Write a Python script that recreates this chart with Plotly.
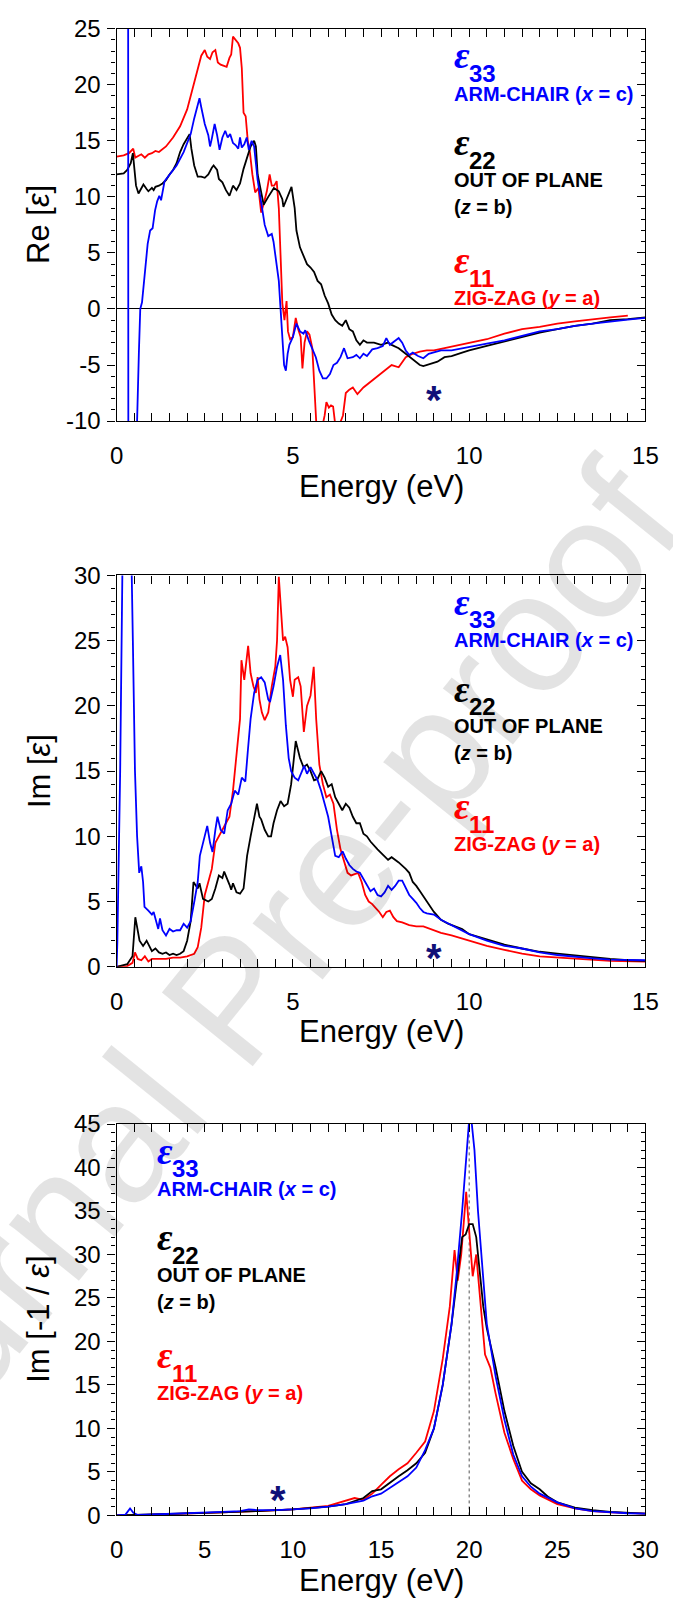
import plotly.graph_objects as go

# ---------------- Panel 1 : Re[eps] ----------------
re_blue_x = [0.0, 0.15, 0.25, 0.31, 0.33, 0.35, 0.42, 0.5, 0.58, 0.63, 0.67, 0.72, 0.79, 0.88, 0.95, 1.02, 1.09,
             1.15, 1.21, 1.26, 1.36, 1.5, 1.7, 1.9, 2.0, 2.1, 2.2, 2.3, 2.35, 2.4, 2.5, 2.6, 2.65, 2.7, 2.78, 2.85,
             2.92, 3.0, 3.08, 3.15, 3.22, 3.3, 3.38, 3.45, 3.5, 3.55, 3.62, 3.69, 3.75, 3.83, 3.9, 3.95, 4.0, 4.1,
             4.2, 4.3, 4.4, 4.45, 4.5, 4.6, 4.65, 4.7, 4.75, 4.8, 4.85, 4.9, 5.0, 5.1, 5.2, 5.3, 5.35, 5.45, 5.55,
             5.65, 5.75, 5.85, 5.95, 6.05, 6.15, 6.25, 6.35, 6.45, 6.55, 6.7, 6.8, 6.9, 7.0, 7.1, 7.25, 7.4, 7.55,
             7.65, 7.75, 7.9, 8.0, 8.1, 8.2, 8.3, 8.4, 8.55, 8.7, 8.85, 9.0, 9.2, 9.5, 9.8, 10.0, 10.5, 11.0, 11.5,
             12.0, 12.5, 13.0, 13.5, 14.0, 14.5, 15.0]
re_blue_y = [40.0, 48.0, 70.0, 150.0, 0.0, -150.0, -60.0, -30.0, -10.0, -4.0, 0.0, 0.6, 2.9, 5.8, 7.0, 7.2, 8.8,
             9.6, 10.1, 9.7, 11.4, 12.0, 12.8, 14.0, 14.8, 15.6, 17.0, 18.3, 18.8, 18.0, 16.5, 15.5, 14.5, 15.2,
             16.5, 15.5, 14.2, 15.3, 15.9, 15.3, 15.6, 14.8, 14.6, 14.3, 15.3, 14.4, 14.7, 15.3, 14.2, 15.0, 14.5,
             13.0, 11.5, 9.5, 7.5, 6.5, 6.7, 6.0, 4.8, 2.5, 0.0, -2.5, -5.0, -5.5, -4.0, -3.2, -2.5, -1.3, -2.0,
             -2.2, -1.9, -2.8, -3.6, -4.3, -5.5, -6.2, -6.2, -5.8, -5.0, -4.8, -4.3, -3.5, -4.4, -4.3, -4.1, -4.4,
             -4.0, -4.2, -3.6, -3.5, -3.3, -2.6, -3.2, -2.8, -2.6, -3.0, -3.7, -4.1, -3.9, -4.2, -4.4, -4.0, -3.9,
             -3.7, -3.7, -3.5, -3.4, -3.1, -2.8, -2.4, -2.0, -1.8, -1.5, -1.3, -1.1, -0.95, -0.8]

re_red_x = [0.0, 0.2, 0.35, 0.47, 0.53, 0.6, 0.7, 0.8, 0.9, 1.0, 1.1, 1.2, 1.4, 1.6, 1.8, 2.0, 2.1, 2.2, 2.3, 2.4,
            2.5, 2.57, 2.65, 2.72, 2.8, 2.87, 2.95, 3.05, 3.12, 3.2, 3.25, 3.3, 3.38, 3.45, 3.5, 3.55, 3.6, 3.66,
            3.72, 3.78, 3.85, 3.93, 4.02, 4.1, 4.18, 4.26, 4.34, 4.4, 4.47, 4.54, 4.6, 4.65, 4.7, 4.76, 4.82, 4.86,
            4.92, 5.0, 5.08, 5.15, 5.22, 5.27, 5.33, 5.4, 5.47, 5.55, 5.6, 5.66, 5.72, 5.8, 5.9, 5.95, 6.02, 6.08,
            6.14, 6.2, 6.3, 6.42, 6.5, 6.6, 6.7, 6.83, 7.0, 7.2, 7.4, 7.6, 7.8, 8.0, 8.1, 8.2, 8.4, 8.6, 8.8, 9.0,
            9.3, 9.6, 10.0, 10.5, 11.0, 11.5, 12.0, 12.5, 13.0, 13.5, 14.0, 14.5, 15.0]
re_red_y = [13.6, 13.7, 13.9, 14.3, 13.5, 13.6, 13.8, 13.5, 13.8, 13.9, 14.1, 14.0, 14.5, 15.3, 16.3, 17.8, 19.0,
            20.3, 21.6, 22.6, 23.1, 22.5, 22.3, 22.9, 23.1, 22.0, 21.8, 21.7, 21.6, 22.4, 22.7, 24.3, 24.0, 23.7,
            23.3, 21.5, 17.5, 17.2, 15.0, 14.0, 12.0, 10.4, 10.8, 8.6, 9.5, 10.5, 12.0, 11.0, 11.0, 11.4, 9.0, 5.0,
            0.5, -1.0, 0.7, -2.0, -2.7, -2.5, -0.8, -1.8, -2.5, -5.3, -3.0, -2.0, -2.3, -3.5, -6.0, -10.0, -11.0,
            -11.0, -9.5, -8.3, -8.8, -8.6, -8.7, -10.3, -10.5, -9.5, -7.5, -7.2, -7.0, -7.6, -7.0, -6.5, -6.0,
            -5.5, -5.0, -5.2, -4.7, -4.3, -4.0, -3.8, -3.7, -3.7, -3.5, -3.3, -3.0, -2.7, -2.2, -1.8, -1.6, -1.3,
            -1.1, -0.9, -0.75, -0.6]

re_black_x = [0.0, 0.2, 0.3, 0.4, 0.46, 0.55, 0.62, 0.7, 0.76, 0.85, 0.9, 1.0, 1.05, 1.1, 1.2, 1.3, 1.4, 1.5, 1.6,
              1.7, 1.8, 1.9, 2.0, 2.07, 2.12, 2.2, 2.3, 2.4, 2.5, 2.6, 2.7, 2.75, 2.85, 2.9, 3.0, 3.1, 3.2, 3.3,
              3.4, 3.5, 3.6, 3.7, 3.8, 3.9, 3.95, 4.0, 4.1, 4.17, 4.3, 4.4, 4.46, 4.6, 4.7, 4.73, 4.85, 4.96, 5.05,
              5.1, 5.2, 5.3, 5.4, 5.5, 5.6, 5.7, 5.8, 5.9, 6.0, 6.1, 6.2, 6.3, 6.4, 6.5, 6.6, 6.7, 6.8, 6.9, 7.0,
              7.1, 7.3, 7.5, 7.7, 7.8, 8.0, 8.2, 8.4, 8.6, 8.7, 8.9, 9.1, 9.3, 9.5, 9.8, 10.0, 10.5, 11.0, 11.5,
              12.0, 12.5, 13.0, 13.5, 14.0, 14.5, 15.0]
re_black_y = [12.0, 12.1, 12.4, 13.0, 13.9, 11.0, 10.3, 10.8, 11.1, 10.7, 10.5, 10.8, 10.6, 10.9, 11.0, 11.2, 11.5,
              12.0, 12.4, 13.0, 14.0, 14.7, 15.3, 15.6, 14.3, 12.8, 11.8, 11.8, 11.7, 12.0, 12.6, 12.8, 12.4, 11.6,
              11.3, 10.6, 10.1, 11.0, 10.6, 11.2, 12.5, 13.5, 14.5, 15.0, 14.5, 12.0, 10.5, 9.3, 10.0, 10.5, 10.8,
              10.5, 9.8, 9.1, 10.0, 10.9, 9.0, 7.0, 5.5, 4.7, 4.0, 3.7, 3.3, 2.5, 2.2, 1.2, 0.5, -0.5, -1.0, -1.3,
              -1.5, -1.0, -1.8, -2.0, -2.8, -3.2, -2.8, -3.0, -3.0, -3.2, -3.0, -3.2, -3.5, -4.0, -4.5, -5.0, -5.1,
              -4.9, -4.7, -4.3, -4.2, -3.9, -3.7, -3.3, -2.9, -2.5, -2.1, -1.8, -1.5, -1.3, -1.0, -0.9, -0.75]

re_tickvals = [-10, -5, 0, 5, 10, 15, 20, 25]
re_ticktext = ["-10", "-5", "0", "5", "10", "15", "20", "25"]

# ---------------- Panel 2 : Im[eps] ----------------
im_blue_x = [0.0, 0.02, 0.1, 0.17, 0.3, 0.42, 0.46, 0.52, 0.58, 0.64, 0.7, 0.75, 0.79, 0.9, 1.0, 1.05, 1.12, 1.18,
             1.23, 1.3, 1.4, 1.5, 1.6, 1.7, 1.8, 1.9, 2.0, 2.1, 2.21, 2.3, 2.36, 2.45, 2.57, 2.65, 2.72, 2.8, 2.86,
             2.95, 3.05, 3.15, 3.25, 3.35, 3.45, 3.55, 3.65, 3.72, 3.8, 3.9, 4.0, 4.1, 4.2, 4.3, 4.35, 4.45, 4.55,
             4.64, 4.72, 4.8, 4.88, 4.95, 5.05, 5.15, 5.25, 5.32, 5.4, 5.5, 5.6, 5.7, 5.8, 5.9, 6.0, 6.1, 6.2, 6.3,
             6.41, 6.5, 6.6, 6.7, 6.8, 6.9, 7.0, 7.1, 7.2, 7.3, 7.4, 7.5, 7.6, 7.7, 7.8, 7.9, 8.0, 8.1, 8.2, 8.3,
             8.4, 8.5, 8.6, 8.7, 8.8, 9.0, 9.2, 9.5, 10.0, 10.5, 11.0, 11.5, 12.0, 12.5, 13.0, 13.5, 14.0, 14.5, 15.0]
im_blue_y = [0.0, 1.9, 15.0, 32.0, 50.0, 33.0, 25.0, 15.0, 10.0, 7.2, 7.7, 6.5, 4.6, 4.3, 4.0, 4.2, 3.5, 2.9, 3.7,
             2.8, 2.4, 2.9, 2.7, 2.8, 2.8, 3.3, 3.0, 3.5, 5.1, 6.5, 8.5, 9.5, 10.8, 9.5, 8.8, 10.5, 11.5, 10.5,
             10.2, 12.0, 12.5, 13.5, 13.2, 14.5, 14.2, 16.5, 19.0, 21.0, 22.0, 22.2, 21.8, 20.5, 20.3, 21.5, 23.0,
             23.9, 22.0, 18.5, 16.0, 15.0, 14.5, 14.3, 15.0, 15.4, 14.8, 15.3, 14.8, 14.3, 13.5, 12.5, 11.5, 10.0,
             8.5, 8.4, 8.85, 8.3, 7.8, 7.5, 7.3, 7.2, 6.7, 6.2, 5.8, 6.0, 5.5, 5.4, 5.7, 6.2, 5.9, 6.2, 6.6, 6.6,
             6.0, 5.5, 5.2, 4.9, 4.5, 4.2, 4.1, 4.0, 3.6, 3.2, 2.5, 2.0, 1.6, 1.4, 1.1, 0.9, 0.75, 0.65, 0.55, 0.5, 0.5]

im_red_x = [0.0, 0.3, 0.45, 0.52, 0.6, 0.7, 0.8, 0.9, 1.0, 1.2, 1.4, 1.6, 1.8, 2.0, 2.2, 2.3, 2.4, 2.5, 2.6, 2.7,
            2.8, 2.9, 3.0, 3.1, 3.2, 3.3, 3.4, 3.5, 3.54, 3.62, 3.73, 3.8, 3.88, 3.95, 4.0, 4.05, 4.12, 4.2, 4.3,
            4.4, 4.5, 4.55, 4.6, 4.66, 4.72, 4.78, 4.85, 4.92, 5.0, 5.05, 5.15, 5.22, 5.31, 5.4, 5.5, 5.59, 5.66,
            5.75, 5.85, 5.95, 6.05, 6.15, 6.25, 6.35, 6.45, 6.55, 6.65, 6.75, 6.85, 6.95, 7.05, 7.15, 7.25, 7.35,
            7.45, 7.55, 7.65, 7.75, 7.85, 7.95, 8.1, 8.3, 8.5, 8.7, 8.9, 9.2, 9.5, 10.0, 10.5, 11.0, 11.5, 12.0,
            12.5, 13.0, 14.0, 15.0]
im_red_y = [0.0, 0.05, 0.3, 1.1, 0.6, 0.5, 0.8, 0.4, 0.6, 0.6, 0.6, 0.7, 0.7, 0.8, 1.0, 1.5, 3.0, 5.5, 6.5, 7.5,
            9.5, 10.0, 10.5, 11.0, 11.5, 13.5, 16.0, 19.0, 23.5, 22.0, 24.6, 22.5, 21.5, 21.0, 22.2, 20.5, 19.5,
            18.9, 19.5, 21.5, 23.0, 25.0, 29.9, 27.0, 25.0, 25.3, 24.5, 22.0, 20.7, 22.0, 22.2, 21.5, 18.0, 20.0,
            20.8, 23.0, 19.0, 15.5, 14.0, 13.0, 13.2, 12.5, 10.5, 9.0, 8.0, 7.2, 7.0, 7.1, 7.2, 6.5, 5.5, 5.0, 4.8,
            4.5, 4.2, 3.8, 4.2, 4.3, 3.8, 3.5, 3.4, 3.2, 3.1, 3.1, 2.9, 2.6, 2.4, 2.0, 1.6, 1.3, 1.0, 0.8, 0.7,
            0.6, 0.45, 0.4]

im_black_x = [0.0, 0.3, 0.45, 0.53, 0.65, 0.75, 0.85, 0.95, 1.0, 1.1, 1.2, 1.3, 1.4, 1.5, 1.6, 1.7, 1.8, 1.9, 2.0,
              2.1, 2.18, 2.3, 2.35, 2.45, 2.6, 2.7, 2.8, 2.9, 3.0, 3.05, 3.1, 3.2, 3.25, 3.3, 3.4, 3.5, 3.6, 3.7,
              3.8, 3.9, 3.98, 4.05, 4.1, 4.2, 4.3, 4.38, 4.45, 4.55, 4.65, 4.75, 4.85, 4.95, 5.02, 5.08, 5.2, 5.3,
              5.4, 5.5, 5.6, 5.7, 5.8, 5.9, 6.0, 6.1, 6.2, 6.3, 6.4, 6.5, 6.6, 6.7, 6.8, 6.9, 7.0, 7.1, 7.2, 7.4,
              7.6, 7.7, 7.8, 8.0, 8.2, 8.3, 8.4, 8.5, 8.6, 8.8, 9.0, 9.2, 9.4, 9.6, 9.8, 10.0, 10.5, 11.0, 11.5,
              12.0, 12.5, 13.0, 13.5, 14.0, 14.5, 15.0]
im_black_y = [0.0, 0.2, 0.8, 3.8, 2.0, 1.6, 2.0, 1.5, 1.2, 1.4, 1.1, 1.0, 1.1, 0.9, 1.0, 0.9, 1.0, 1.2, 2.0, 3.5,
              6.5, 6.0, 6.4, 5.2, 5.0, 5.2, 6.0, 7.0, 6.8, 7.3, 7.0, 6.3, 5.9, 6.4, 5.7, 5.6, 6.0, 8.5, 10.0, 11.5,
              12.5, 11.5, 11.3, 10.5, 10.0, 10.0, 11.0, 12.0, 12.7, 12.3, 12.5, 14.0, 16.0, 17.3, 16.0, 15.3, 15.5,
              15.0, 14.3, 14.4, 15.0, 14.5, 13.8, 14.0, 13.0, 12.5, 12.0, 12.5, 12.2, 11.5, 11.0, 11.0, 10.2, 10.0,
              9.6, 9.0, 8.5, 8.2, 8.4, 8.0, 7.5, 7.2, 6.5, 6.2, 5.8, 5.0, 4.2, 3.6, 3.3, 3.1, 2.9, 2.5, 2.1, 1.7,
              1.4, 1.15, 1.0, 0.85, 0.7, 0.6, 0.5, 0.45]

# ---------------- Panel 3 : Im[-1/eps] ----------------
el_blue_x = [0.0, 0.5, 0.76, 0.95, 1.2, 2.0, 3.0, 4.0, 5.0, 6.0, 7.0, 7.5, 8.0, 9.0, 10.0, 11.0, 12.0, 13.0, 14.0,
             14.5, 15.0, 15.5, 16.0, 16.5, 17.0, 17.5, 18.0, 18.5, 19.0, 19.3, 19.6, 19.8, 20.0, 20.1, 20.2, 20.3,
             20.5, 20.8, 21.0, 21.5, 22.0, 22.5, 23.0, 23.5, 24.0, 25.0, 26.0, 27.0, 28.0, 29.0, 30.0]
el_blue_y = [0.0, 0.1, 0.8, 0.3, 0.05, 0.1, 0.15, 0.2, 0.3, 0.4, 0.5, 0.7, 0.6, 0.6, 0.7, 0.8, 1.0, 1.3, 1.7, 2.2,
             2.5, 3.2, 3.8, 4.5, 5.5, 7.5, 10.0, 15.0, 22.0, 28.0, 35.0, 40.0, 45.5, 46.0, 44.0, 42.0, 35.0, 27.0,
             22.0, 16.0, 11.0, 7.0, 4.5, 3.3, 2.5, 1.5, 0.8, 0.5, 0.35, 0.25, 0.2]

el_red_x = [0.0, 1.0, 2.0, 4.0, 6.0, 8.0, 10.0, 12.0, 13.0, 13.5, 14.0, 14.5, 15.0, 15.5, 16.0, 16.5, 17.0, 17.5,
            18.0, 18.5, 18.9, 19.17, 19.35, 19.55, 19.83, 20.0, 20.2, 20.4, 20.6, 20.9, 21.2, 21.5, 22.0, 22.5,
            23.0, 23.5, 24.0, 25.0, 26.0, 27.0, 28.0, 30.0]
el_red_y = [0.0, 0.0, 0.1, 0.2, 0.35, 0.5, 0.7, 1.1, 1.7, 2.0, 1.8, 2.5, 3.5, 4.5, 5.3, 6.0, 7.2, 8.5, 12.0, 18.0,
            24.0, 30.5, 27.0, 30.0, 37.2, 33.0, 27.5, 30.0, 25.0, 18.5, 17.0, 14.0, 9.5, 6.5, 4.0, 3.0, 2.3, 1.3,
            0.8, 0.5, 0.35, 0.2]

el_black_x = [0.0, 2.0, 4.0, 6.0, 8.0, 10.0, 12.0, 13.0, 14.0, 14.5, 15.0, 15.5, 16.0, 16.5, 17.0, 17.5, 18.0,
              18.5, 19.0, 19.3, 19.6, 19.8, 20.0, 20.2, 20.4, 20.6, 20.8, 21.0, 21.5, 22.0, 22.5, 23.0, 23.5, 24.0,
              24.5, 25.0, 26.0, 27.0, 28.0, 30.0]
el_black_y = [0.0, 0.1, 0.2, 0.35, 0.5, 0.7, 1.0, 1.3, 2.0, 2.8, 3.0, 3.8, 4.5, 5.2, 6.0, 7.2, 10.0, 15.0, 22.0,
              27.0, 32.0, 32.3, 33.5, 33.5, 32.0, 28.0, 24.0, 21.5, 17.0, 12.0, 8.0, 5.0, 3.7, 3.0, 2.1, 1.5, 0.9,
              0.6, 0.4, 0.2]

# markers / reference values
star_panel1 = (9.0, -7.45)
star_panel2 = (9.0, 1.26)
star_panel3 = (9.15, 2.7)
plasmon_energy = 20.0

BLUE = "#0000ff"
RED = "#ff0000"
BLACK = "#000000"
NAVY = "#101078"
FONT = "Liberation Sans, Arial, sans-serif"
SERIF = "Liberation Serif, Times New Roman, serif"

W, H = 673, 1611
XL, XR = 113, 658
panels_px = [(15, 414), (571, 969), (1129, 1527)]


def dom(top, bot):
    return [1 - bot / H, 1 - top / H]


fig = go.Figure()


def add_line(x, y, color, xa, ya):
    fig.add_trace(go.Scatter(x=x, y=y, mode="lines", line=dict(color=color, width=1.8),
                             xaxis=xa, yaxis=ya, showlegend=False, hoverinfo="skip"))


add_line(re_red_x, re_red_y, RED, "x", "y")
add_line(re_black_x, re_black_y, BLACK, "x", "y")
add_line(re_blue_x, re_blue_y, BLUE, "x", "y")
add_line(im_red_x, im_red_y, RED, "x2", "y2")
add_line(im_black_x, im_black_y, BLACK, "x2", "y2")
add_line(im_blue_x, im_blue_y, BLUE, "x2", "y2")
add_line(el_red_x, el_red_y, RED, "x3", "y3")
add_line(el_black_x, el_black_y, BLACK, "x3", "y3")
add_line(el_blue_x, el_blue_y, BLUE, "x3", "y3")

# empty traces so the right-hand tick axes get drawn
for ya, xa in (("y4", "x"), ("y5", "x2"), ("y6", "x3")):
    fig.add_trace(go.Scatter(x=[], y=[], xaxis=xa, yaxis=ya, showlegend=False, hoverinfo="skip"))

xdom = [XL / W, XR / W]
tickfont = dict(family=FONT, size=24, color="black")


def xaxis(rng, dtick, minor, anchor):
    return dict(domain=xdom, anchor=anchor, range=rng, dtick=dtick, tick0=0, ticks="inside", ticklen=8,
                tickwidth=1.2, tickcolor="black",
                minor=dict(dtick=minor, tick0=0, ticks="inside", ticklen=4, tickwidth=1, tickcolor="black"),
                mirror="allticks", showline=True, linecolor="black", linewidth=1.3, showgrid=False,
                zeroline=False, tickfont=tickfont, ticklabelstandoff=13, fixedrange=True)


def yaxis(rng, anchor, d, zeroline=False, tickvals=None, ticktext=None):
    ax = dict(domain=d, anchor=anchor, range=rng, ticks="outside", ticklen=8, tickwidth=1.2,
              tickcolor="black",
              minor=dict(tickmode="linear", tick0=0, dtick=1, ticks="outside", ticklen=4, tickwidth=1,
                         tickcolor="black"),
              mirror=True, showline=True, linecolor="black", linewidth=1.3, showgrid=False,
              zeroline=zeroline, zerolinecolor="black", zerolinewidth=1, tickfont=tickfont,
              ticklabelstandoff=2, fixedrange=True)
    if tickvals is not None:
        ax.update(tickmode="array", tickvals=tickvals, ticktext=ticktext)
    else:
        ax.update(dtick=5, tick0=0)
    return ax


def yright(rng, anchor, over):
    return dict(overlaying=over, anchor=anchor, side="right", range=rng, dtick=5, tick0=0, ticks="inside",
                ticklen=8, tickwidth=1.2, tickcolor="black",
                minor=dict(dtick=1, tick0=0, ticks="inside", ticklen=4, tickwidth=1, tickcolor="black"),
                showticklabels=False, showline=False, showgrid=False, zeroline=False, fixedrange=True)


d1, d2, d3 = [dom(t, b) for t, b in panels_px]

fig.update_layout(
    width=W, height=H, autosize=False, margin=dict(l=0, r=0, t=0, b=0),
    paper_bgcolor="white", plot_bgcolor="white", showlegend=False,
    xaxis=xaxis([0, 15], 5, 0.5, "y"),
    xaxis2=xaxis([0, 15], 5, 0.5, "y2"),
    xaxis3=xaxis([0, 30], 5, 1, "y3"),
    yaxis=yaxis([-10, 25], "x", d1, zeroline=True, tickvals=re_tickvals, ticktext=re_ticktext),
    yaxis2=yaxis([0, 30], "x2", d2),
    yaxis3=yaxis([0, 45], "x3", d3),
    yaxis4=yright([-10, 25], "x", "y"),
    yaxis5=yright([0, 30], "x2", "y2"),
    yaxis6=yright([0, 45], "x3", "y3"),
)

# plasmon reference line
fig.add_shape(type="line", xref="x3", yref="y3 domain", x0=plasmon_energy, x1=plasmon_energy, y0=0, y1=1,
              line=dict(color="#555555", width=1, dash="dot"), layer="below")

ann = []

# watermark
ann.append(dict(text="Journal Pre-proof", xref="paper", yref="paper", x=231 / W, y=1 - 1002 / H,
                showarrow=False, textangle=-51, font=dict(family=FONT, size=170, color="rgba(0,0,0,0.11)"),
                xanchor="center", yanchor="middle"))

# axis titles
ytitles = ["Re [<i>ε</i>]", "Im [<i>ε</i>]", "Im [-1 / <i>ε</i>]"]
for i, t in enumerate(ytitles):
    yr = "y domain" if i == 0 else f"y{i + 1} domain"
    xr = "x domain" if i == 0 else f"x{i + 1} domain"
    ann.append(dict(text=t, xref="paper", yref=yr, x=33 / W, y=0.5, showarrow=False, textangle=-90,
                    font=dict(family=FONT, size=31, color="black"), xanchor="center", yanchor="middle"))
    ann.append(dict(text="Energy (eV)", xref=xr, yref=yr, x=0.5, y=0, yshift=-65, showarrow=False,
                    font=dict(family=FONT, size=31, color="black"), xanchor="center", yanchor="middle"))

PANEL_H = 398.0
# vertical pixel offsets of the legend texts below the top frame
offs = dict(e33=27, arm=66, e22=115, out=153, zb=181, e11=235, zig=273)


def label_block(xr, yr, x0):
    def yy(k):
        return 1 - offs[k] / PANEL_H
    for sub, col, k in (("33", BLUE, "e33"), ("22", BLACK, "e22"), ("11", RED, "e11")):
        ann.append(dict(text="<b><i>ε</i></b>", xref=xr, yref=yr, x=x0, y=yy(k), showarrow=False,
                        xanchor="left", yanchor="middle", font=dict(family=SERIF, size=38, color=col)))
        ann.append(dict(text=f"<b>{sub}</b>", xref=xr, yref=yr, x=x0, y=yy(k), xshift=15, yshift=-18,
                        showarrow=False, xanchor="left", yanchor="middle",
                        font=dict(family=FONT, size=24, color=col)))
    for t, col, k in (("<b>ARM-CHAIR (<i>x</i> = c)</b>", BLUE, "arm"), ("<b>OUT OF PLANE</b>", BLACK, "out"),
                      ("<b>(<i>z</i> = b)</b>", BLACK, "zb"), ("<b>ZIG-ZAG (<i>y</i> = a)</b>", RED, "zig")):
        ann.append(dict(text=t, xref=xr, yref=yr, x=x0, y=yy(k), showarrow=False, xanchor="left",
                        yanchor="middle", font=dict(family=FONT, size=20, color=col)))


label_block("x", "y domain", 9.5)
label_block("x2", "y2 domain", 9.5)
label_block("x3", "y3 domain", 2.15)

# stars
for (sx, sy), xr, yr in ((star_panel1, "x", "y"), (star_panel2, "x2", "y2"), (star_panel3, "x3", "y3")):
    ann.append(dict(text="<b>*</b>", xref=xr, yref=yr, x=sx, y=sy, yshift=-8, showarrow=False,
                    xanchor="center", yanchor="middle", font=dict(family=FONT, size=40, color=NAVY)))

fig.update_layout(annotations=ann)
fig.write_html("out.html")
